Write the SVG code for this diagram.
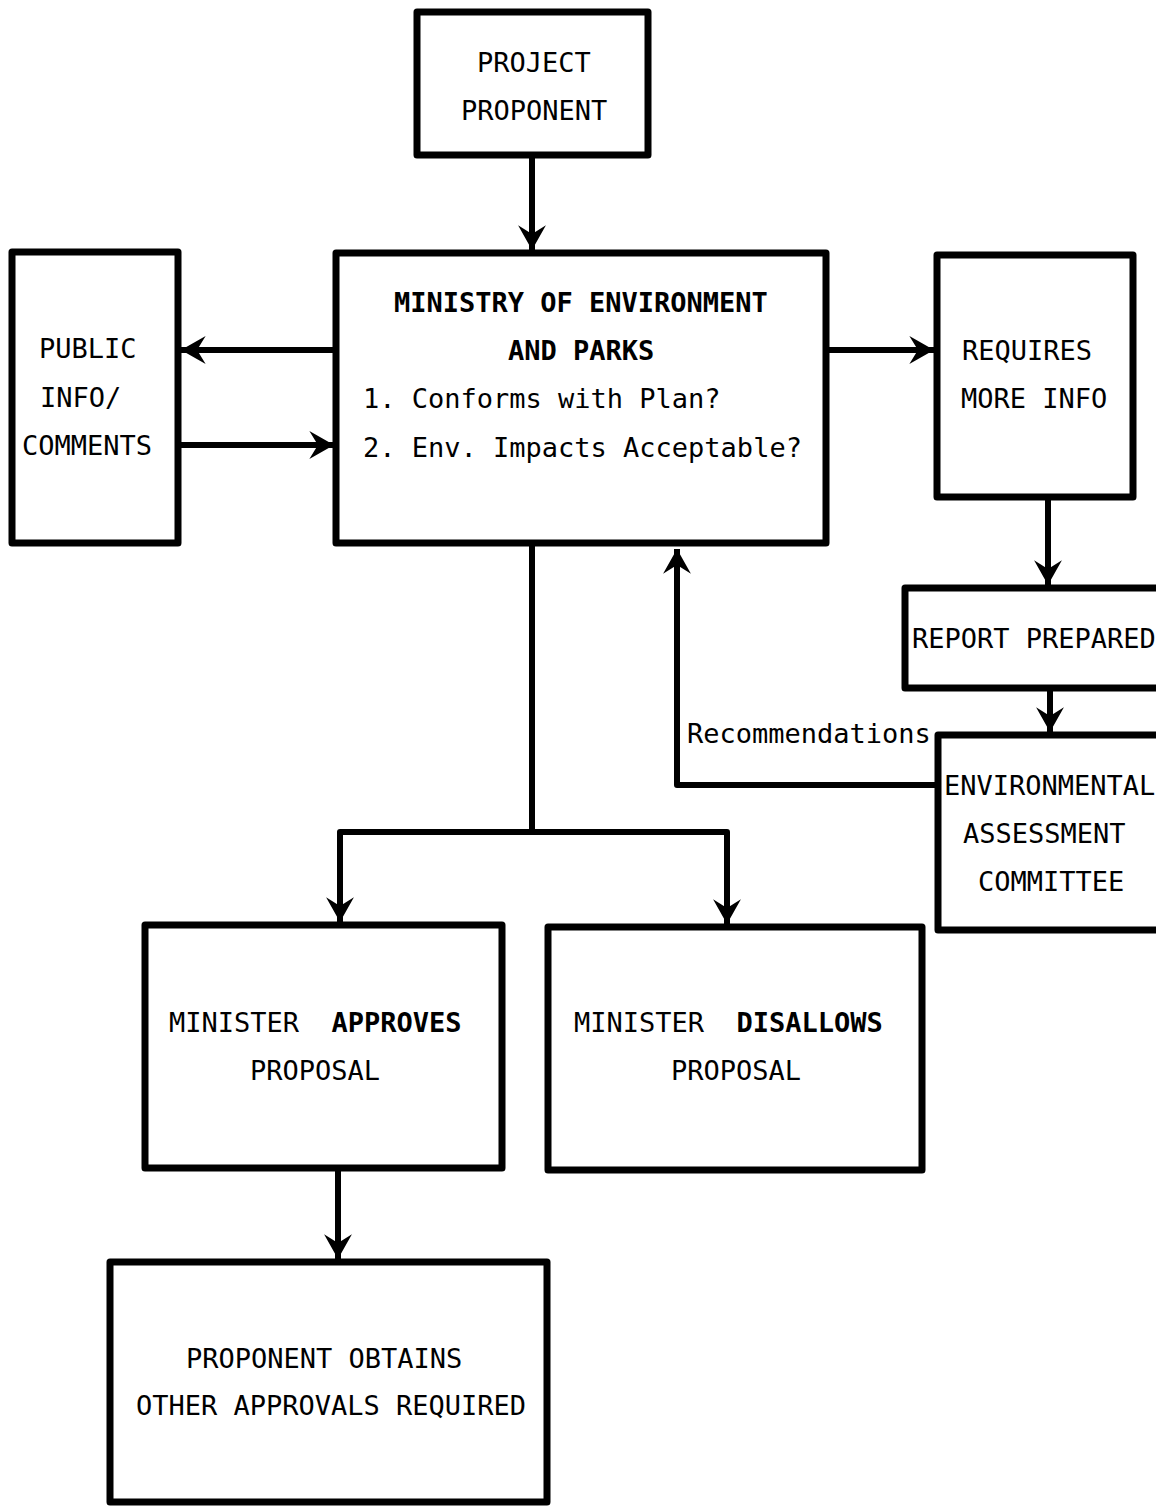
<svg xmlns="http://www.w3.org/2000/svg" width="1156" height="1507" viewBox="0 0 1156 1507">
<style>
.box{fill:#fff;stroke:#000;stroke-width:7;stroke-linejoin:round}
.t{font-family:"DejaVu Sans Mono","Liberation Mono",monospace;font-size:27px;fill:#000}
.b{font-weight:bold}
.c{fill:none;stroke:#000;stroke-width:6;stroke-linejoin:round}
</style>
<defs>
<marker id="ah" markerUnits="userSpaceOnUse" orient="auto" refX="0" refY="0" markerWidth="30" markerHeight="30" viewBox="-24 -14 28 28" overflow="visible">
<path d="M0,0 L-23,-13 L-15,0 L-23,13 Z" fill="#000"/>
</marker>
</defs>
<rect width="1156" height="1507" fill="#fff"/>
<g id="connectors">
<path class="c" d="M532,155 L532,250" marker-end="url(#ah)"/>
<path class="c" d="M335,350 L181,350" marker-end="url(#ah)"/>
<path class="c" d="M180,445 L334,445" marker-end="url(#ah)"/>
<path class="c" d="M826,350 L934,350" marker-end="url(#ah)"/>
<path class="c" d="M1048,497 L1048,585" marker-end="url(#ah)"/>
<path class="c" d="M1050,688 L1050,732" marker-end="url(#ah)"/>
<path class="c" d="M938,785 L677,785 L677,549" marker-end="url(#ah)"/>
<path class="c" d="M532,545 L532,832 L340,832 L340,922" marker-end="url(#ah)"/>
<path class="c" d="M532,832 L727,832 L727,924" marker-end="url(#ah)"/>
<path class="c" d="M338,1168 L338,1259" marker-end="url(#ah)"/>
</g>
<g id="project-proponent">
<rect class="box" x="417" y="12" width="231" height="143"/>
<text class="t" x="477" y="72">PROJECT</text>
<text class="t" x="461" y="120">PROPONENT</text>
</g>
<g id="ministry">
<rect class="box" x="336" y="253" width="490" height="290"/>
<text class="t b" x="394" y="312">MINISTRY OF ENVIRONMENT</text>
<text class="t b" x="508" y="360">AND PARKS</text>
<text class="t" x="363" y="408">1. Conforms with Plan?</text>
<text class="t" x="363" y="457">2. Env. Impacts Acceptable?</text>
</g>
<g id="public">
<rect class="box" x="12" y="252" width="166" height="291"/>
<text class="t" x="39" y="358">PUBLIC</text>
<text class="t" x="40" y="407">INFO/</text>
<text class="t" x="22" y="455">COMMENTS</text>
</g>
<g id="requires-more-info">
<rect class="box" x="937" y="255" width="196" height="242"/>
<text class="t" x="962" y="360">REQUIRES</text>
<text class="t" x="961" y="408">MORE INFO</text>
</g>
<g id="report-prepared">
<rect class="box" x="905" y="588" width="270" height="100"/>
<text class="t" x="912" y="648">REPORT PREPARED</text>
</g>
<g id="eac">
<rect class="box" x="938" y="735" width="250" height="195"/>
<text class="t" x="944" y="795">ENVIRONMENTAL</text>
<text class="t" x="963" y="843">ASSESSMENT</text>
<text class="t" x="978" y="891">COMMITTEE</text>
</g>
<g id="recommendations-label">
<text class="t" x="687" y="743">Recommendations</text>
</g>
<g id="minister-approves">
<rect class="box" x="145" y="925" width="357" height="243"/>
<text class="t" x="169" y="1032" xml:space="preserve">MINISTER  <tspan class="b">APPROVES</tspan></text>
<text class="t" x="250" y="1080">PROPOSAL</text>
</g>
<g id="minister-disallows">
<rect class="box" x="548" y="927" width="374" height="243"/>
<text class="t" x="574" y="1032" xml:space="preserve">MINISTER  <tspan class="b">DISALLOWS</tspan></text>
<text class="t" x="671" y="1080">PROPOSAL</text>
</g>
<g id="proponent-obtains">
<rect class="box" x="110" y="1262" width="437" height="240"/>
<text class="t" x="186" y="1368">PROPONENT OBTAINS</text>
<text class="t" x="136" y="1415">OTHER APPROVALS REQUIRED</text>
</g>
</svg>
